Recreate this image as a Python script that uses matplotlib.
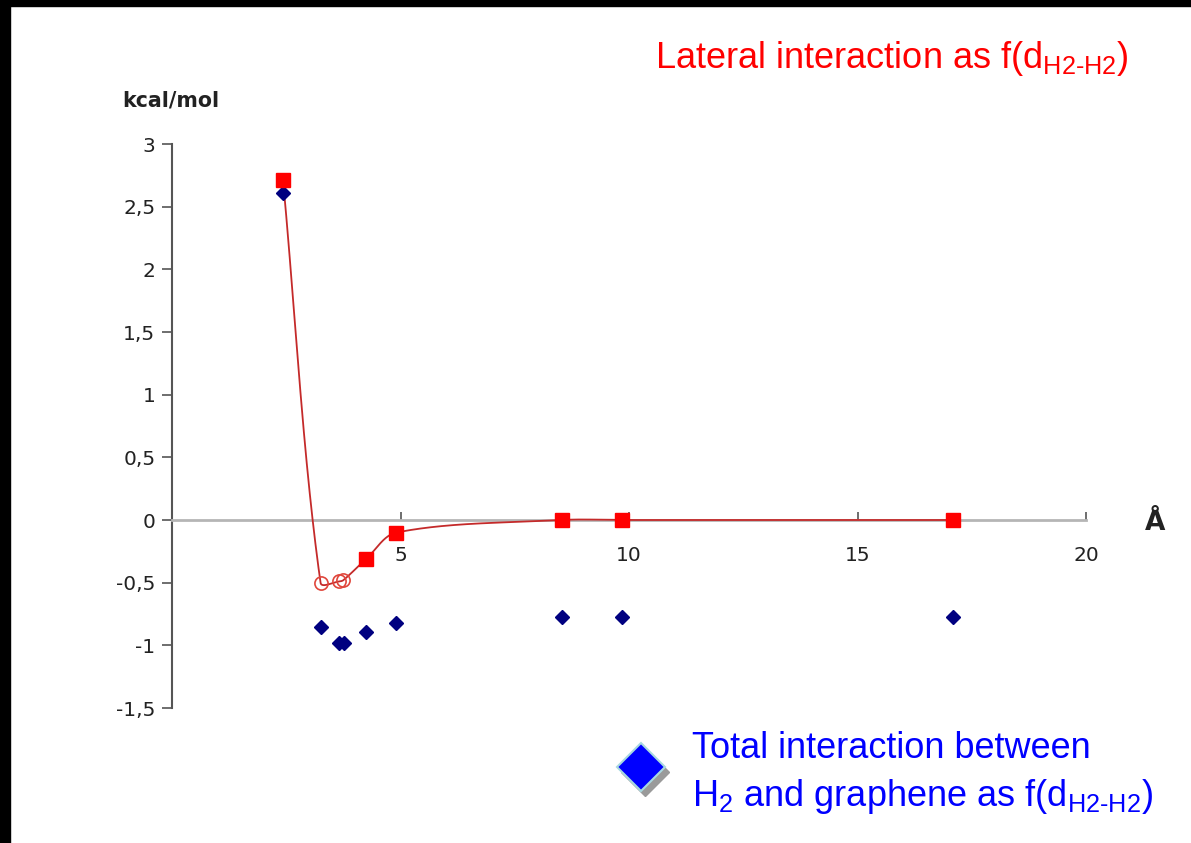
import numpy as np
import matplotlib

matplotlib.use("Agg")
import matplotlib.pyplot as plt
from matplotlib.lines import Line2D
from matplotlib.patches import Rectangle


# distance between H2 molecules (Angstrom) and energies (kcal/mol)
lateral_x = [2.43, 4.25, 4.91, 8.53, 9.85, 17.08]
lateral_y = [2.71, -0.31, -0.10, 0.0, 0.0, 0.0]
open_x = [3.25, 3.66, 3.75]
open_y = [-0.50, -0.49, -0.48]
total_x = [2.43, 3.25, 3.66, 3.77, 4.25, 4.91, 8.53, 9.85, 17.08]
total_y = [2.61, -0.85, -0.98, -0.98, -0.89, -0.82, -0.77, -0.77, -0.77]

y_ticks = [3, 2.5, 2, 1.5, 1, 0.5, 0, -0.5, -1, -1.5]
x_ticks = [5, 10, 15, 20]

RED = "#ff0000"
LINE_RED = "#c42a2a"
NAVY = "#000080"
BLUE = "#0000ff"


def smooth_curve(xs, ys, sx=1.0, sy=1.0, n=80):
    """Bezier smoothing through the points; control arms weighted by chord length
    (measured in screen-like units so that very close points do not overshoot)."""
    p = np.column_stack([xs, ys]).astype(float)
    ext = np.vstack([p[0], p, p[-1]])
    scale = np.array([sx, sy])

    def dist(a, b):
        return float(np.hypot(*((a - b) * scale)))

    t = np.linspace(0, 1, n)[:, None]
    out = []
    for i in range(1, len(ext) - 2):
        p_prev, p0, p1, p_next = ext[i - 1], ext[i], ext[i + 1], ext[i + 2]
        d_prev, d_cur, d_next = dist(p_prev, p0), dist(p0, p1), dist(p1, p_next)
        w1 = d_cur / (d_prev + d_cur) if d_prev + d_cur > 0 else 0.5
        w2 = d_cur / (d_cur + d_next) if d_cur + d_next > 0 else 0.5
        c1 = p0 + (p1 - p_prev) * w1 / 3.0
        c2 = p1 - (p_next - p0) * w2 / 3.0
        seg = ((1 - t) ** 3) * p0 + 3 * ((1 - t) ** 2) * t * c1 + 3 * (1 - t) * t ** 2 * c2 + t ** 3 * p1
        out.append(seg)
    out = np.vstack(out)
    return out[:, 0], out[:, 1]


plt.rcParams["font.family"] = ["DejaVu Sans"]
plt.rcParams["mathtext.fontset"] = "custom"
plt.rcParams["mathtext.rm"] = "Liberation Sans"

fig = plt.figure(figsize=(11.91, 8.43), dpi=100)
fig.patch.set_facecolor("white")

# dark frame on the left and top edges
fig.patches.append(Rectangle((0, 0), 10 / 1191, 1, transform=fig.transFigure, color="black", zorder=0))
fig.patches.append(Rectangle((0, 1 - 6 / 843), 1, 6 / 843, transform=fig.transFigure, color="black", zorder=0))

ax = fig.add_axes([172 / 1191, 135 / 843, 914 / 1191, 564 / 843])
ax.set_xlim(0, 20)
ax.set_ylim(-1.5, 3)

# smooth red line through all lateral points (sorted by distance)
pts = sorted(zip(lateral_x + open_x, lateral_y + open_y))
cx = [a for a, _ in pts]
cy = [b for _, b in pts]
sx, sy = smooth_curve(cx, cy, sx=914 / 20, sy=564 / 4.5)
ax.plot(sx, sy, color=LINE_RED, lw=1.3, zorder=3)

ax.plot(total_x, total_y, ls="none", marker="D", ms=6.8, color=NAVY, zorder=4)
ax.plot(lateral_x, lateral_y, ls="none", marker="s", ms=9.5, color=RED, zorder=5)
ax.plot(open_x, open_y, ls="none", marker="o", ms=9.5, mfc="none", mec="#e0463c", mew=1.2, zorder=5)

for s in ["top", "right"]:
    ax.spines[s].set_visible(False)
ax.spines["left"].set_color("#555555")
ax.spines["left"].set_linewidth(1.5)
ax.spines["bottom"].set_position(("data", 0))
ax.spines["bottom"].set_color("#b5b5b5")
ax.spines["bottom"].set_linewidth(2)

ax.set_yticks(y_ticks)
ax.set_yticklabels([f"{v:g}".replace(".", ",") for v in y_ticks])
ax.set_xticks(x_ticks)
ax.set_xticklabels([str(v) for v in x_ticks])
ax.tick_params(axis="y", direction="out", length=7, width=1.2, color="#555555",
               labelsize=14.5, labelcolor="#222222", pad=5)
ax.tick_params(axis="x", direction="in", length=6, width=1.2, color="#555555",
               labelsize=14.5, labelcolor="#222222", pad=19)

fig.text(122 / 1191, 1 - 100 / 843, "kcal/mol", fontsize=14.8, fontweight="bold",
         color="#222222", ha="left", va="center")
fig.text(1155 / 1191, 1 - 523 / 843, "Å", fontsize=19, fontweight="bold",
         color="#222222", ha="center", va="center")

fig.text(655 / 1191, 1 - 58 / 843, r"Lateral interaction as f(d$_{\mathregular{H2‐H2}}$)",
         family="Liberation Sans", fontsize=26, color=RED, ha="left", va="center")

fig.text(692 / 1191, 1 - 748 / 843, "Total interaction between",
         family="Liberation Sans", fontsize=26, color=BLUE, ha="left", va="center")
fig.text(692 / 1191, 1 - 796 / 843, r"H$_{\mathregular{2}}$ and graphene as f(d$_{\mathregular{H2‐H2}}$)",
         family="Liberation Sans", fontsize=26, color=BLUE, ha="left", va="center")

# legend-style diamond with a soft shadow
fig.add_artist(Line2D([645 / 1191], [1 - 772 / 843], transform=fig.transFigure, marker="D",
                      ms=24, color="#9a9a9a", mec="#9a9a9a", ls="none"))
fig.add_artist(Line2D([641 / 1191], [1 - 767 / 843], transform=fig.transFigure, marker="D",
                      ms=24, color=BLUE, mec="#a8d8e0", mew=1.5, ls="none"))

fig.savefig("out.png", dpi=100)
